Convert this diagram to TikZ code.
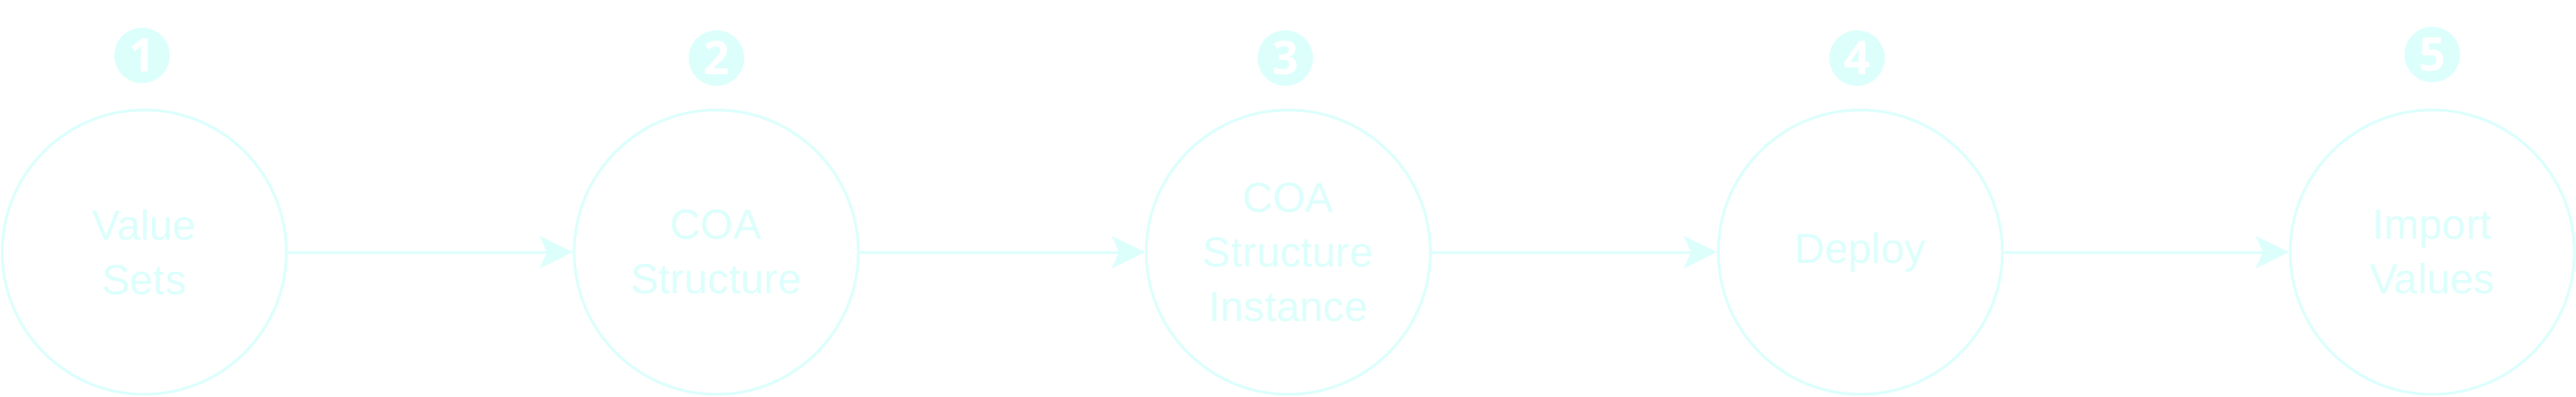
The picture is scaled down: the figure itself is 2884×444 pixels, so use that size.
\documentclass[tikz,border=0pt]{standalone}
\usepackage{fontspec}
\setmainfont{Liberation Sans}
\newfontfamily\badgefont{Open Sans}
\usetikzlibrary{arrows.meta}
\definecolor{lc}{RGB}{220,255,252}
\begin{document}
\begin{tikzpicture}[x=1pt,y=-1pt,
  stepnode/.style={circle, draw=lc, line width=3pt, minimum size=318pt, inner sep=0pt, text=lc, align=center, font=\fontsize{47}{61}\selectfont},
  badge/.style={circle, fill=lc, minimum size=62pt, inner sep=0pt, text=white, font=\badgefont\bfseries\fontsize{52}{52}\selectfont},
  flow/.style={draw=lc, line width=3pt, -{Stealth[length=37pt,width=36pt,inset=8pt]}}]
\fill[white] (0,0) rectangle (2884,444);
\useasboundingbox (0,0) rectangle (2884,444);
\node[stepnode] (c1) at (161.5,282) {Value\\Sets};
\node[stepnode] (c2) at (801.9,282) {COA\\Structure};
\node[stepnode] (c3) at (1442.3,282) {COA\\Structure\\Instance};
\node[stepnode] (c4) at (2082.7,282) {Deploy};
\node[stepnode] (c5) at (2723.1,282) {Import\\Values};
\node[badge] (b1) at (159,62) {1};
\node[badge] (b2) at (802,65) {2};
\node[badge] (b3) at (1439,65) {3};
\node[badge] (b4) at (2079,65) {4};
\node[badge] (b5) at (2723,61) {5};
\draw[flow] (c1) -- (c2);
\draw[flow] (c2) -- (c3);
\draw[flow] (c3) -- (c4);
\draw[flow] (c4) -- (c5);
\end{tikzpicture}
\end{document}
